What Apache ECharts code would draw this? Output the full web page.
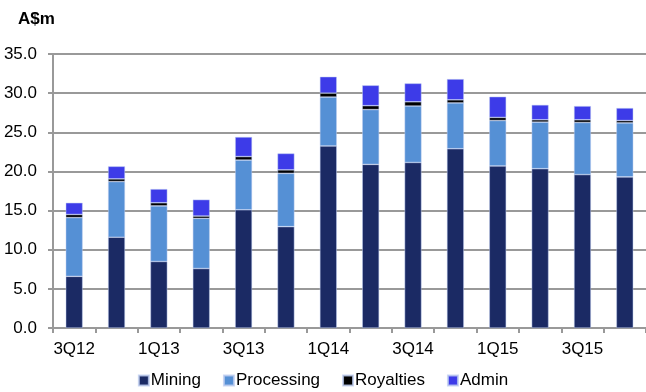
<!DOCTYPE html>
<html><head><meta charset="utf-8">
<script src="https://cdn.jsdelivr.net/npm/echarts@6/dist/echarts.min.js"></script>
<style>html,body{margin:0;padding:0;background:#fff}#c{width:646px;height:392px}</style>
</head><body><div id="c"></div>
<script>
var categories = ['3Q12','4Q12','1Q13','2Q13','3Q13','4Q13','1Q14','2Q14','3Q14','4Q14','1Q15','2Q15','3Q15','4Q15'];
var mining     = [6.6, 11.6, 8.5, 7.6, 15.1, 12.95, 23.25, 20.9, 21.15, 22.9, 20.7, 20.35, 19.6, 19.3];
var processing = [7.5, 7.1, 7.1, 6.4, 6.35, 6.8, 6.25, 7.0, 7.2, 5.85, 5.8, 5.95, 6.65, 6.9];
var royalties  = [0.4, 0.35, 0.4, 0.3, 0.45, 0.45, 0.5, 0.5, 0.55, 0.4, 0.4, 0.3, 0.35, 0.3];
var admin      = [1.5, 1.6, 1.75, 2.1, 2.5, 2.1, 2.1, 2.6, 2.35, 2.65, 2.65, 1.9, 1.75, 1.6];
var yTicks = [0,5,10,15,20,25,30,35];

var chart = echarts.init(document.getElementById('c'));
var font = 'Liberation Sans, Arial, sans-serif';
function s(name, data, color) {
  return {name: name, type: 'bar', stack: 'total', data: data, barCategoryGap: '60%',
    itemStyle: {color: color, borderColor: 'rgba(190,205,240,0.8)', borderWidth: 0.6},
    emphasis: {disabled: true}};
}
chart.setOption({
  animation: false,
  textStyle: {fontFamily: font},
  graphic: [{type: 'text', left: 18, top: 11, style: {text: 'A$m', font: 'bold 17px ' + font, fill: '#000'}}],
  grid: {left: 53, right: 0, top: 54, bottom: 64, containLabel: false},
  legend: {top: 367, left: 'center', itemWidth: 10, itemHeight: 10, itemGap: 22,
    icon: 'rect', textStyle: {fontSize: 17, color: '#000', fontFamily: font, padding: [0,0,0,-3]},
    data: ['Mining','Processing','Royalties','Admin']},
  xAxis: {type: 'category', data: categories,
    axisLine: {lineStyle: {color: '#999', width: 2}},
    axisTick: {show: true, alignWithLabel: false, interval: 0, length: 5, lineStyle: {color: '#999', width: 2}},
    axisLabel: {interval: 1, color: '#000', fontSize: 17, margin: 13, fontFamily: font}},
  yAxis: {type: 'value', min: 0, max: 35, interval: 5,
    axisLine: {show: true, lineStyle: {color: '#999', width: 2}},
    axisTick: {show: true, length: 5, lineStyle: {color: '#999', width: 2}},
    splitLine: {lineStyle: {color: '#999', width: 2}},
    axisLabel: {color: '#000', fontSize: 17, margin: 16, fontFamily: font,
      formatter: function (v) { return yTicks.indexOf(v) >= 0 ? v.toFixed(1) : ''; }}},
  series: [
    s('Mining', mining, '#1B2A64'),
    s('Processing', processing, '#5590D5'),
    s('Royalties', royalties, '#000000'),
    s('Admin', admin, '#3D3BE8')
  ]
});
</script></body></html>
